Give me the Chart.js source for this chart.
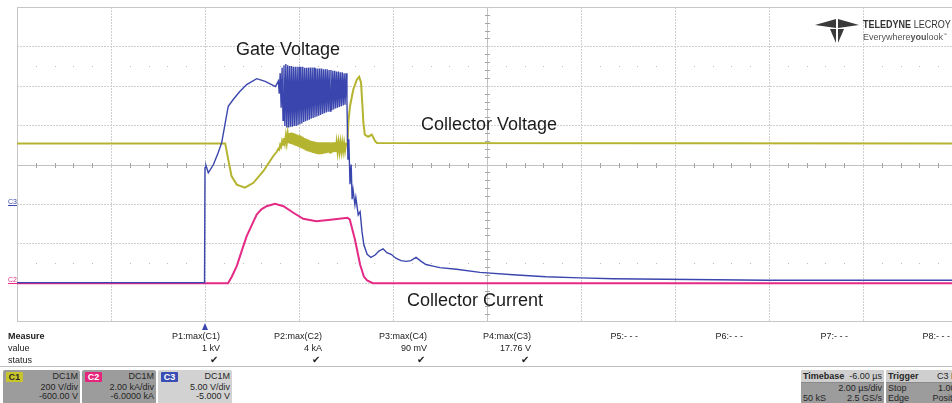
<!DOCTYPE html>
<html lang="en">
<head>
<meta charset="UTF-8">
<title>IGBT switching - scope capture</title>
<script src="https://cdn.jsdelivr.net/npm/chart.js"></script>
<style>
    body { margin: 0; width: 952px; height: 403px; overflow: hidden; position: relative; background: #fff;
           font-family: "Liberation Sans", Arial, sans-serif; color: #222; }
    #scope { position: absolute; left: 0; top: 0; }
    .abs { position: absolute; white-space: nowrap; }
    .note { font-size: 18px; line-height: 18px; color: #1c1c1c; }
    .m { font-size: 9px; line-height: 9px; }
    .box { position: absolute; top: 370px; height: 34px; border-radius: 2px; background: #9c9c9c; overflow: hidden;
           font-size: 9px; line-height: 9px; color: #262626; }
    .box .r { position: absolute; right: 2px; }
    .box .l { position: absolute; left: 2px; }
    .tab { position: absolute; left: 3px; top: 2px; width: 17px; height: 10px; border-radius: 1px;
           font-weight: bold; font-size: 9px; line-height: 10px; text-align: center; }
    .head { position: absolute; left: 0; right: 0; top: 0; height: 12px; background: #cfcfcf; border-bottom: 1px solid #8a8a8a; }
</style>
</head>
<body>
<canvas id="scope" width="960" height="330"></canvas>

<!-- trace annotations -->
<div class="abs note" style="left:236px; top:40px;">Gate Voltage</div>
<div class="abs note" style="left:421px; top:115px;">Collector Voltage</div>
<div class="abs note" style="left:407px; top:291px;">Collector Current</div>

<!-- ground markers -->
<div class="abs" style="left:8px; top:198px; font-size:7px; line-height:8px; color:#3a46ad; text-decoration:underline;">C3</div>
<div class="abs" style="left:8px; top:276px; font-size:7px; line-height:8px; color:#e42a84; text-decoration:underline;">C2</div>

<!-- logo -->
<svg class="abs" style="left:815px; top:17px;" width="46" height="27" viewBox="0 0 46 27">
    <polygon points="0,8 21,2 21,11" fill="#3a3a3a"/>
    <polygon points="44,8 23,2 23,11" fill="#3a3a3a"/>
    <polygon points="15,12 21,12 21,26" fill="#3a3a3a"/>
    <polygon points="23,12 29,12 23,26" fill="#3a3a3a"/>
</svg>
<div class="abs" style="left:863px; top:19px; font-size:11px; line-height:11px; color:#333; transform:scaleX(0.82); transform-origin:left;">
    <b>TELEDYNE</b> LECROY</div>
<div class="abs" style="left:863px; top:30px; font-size:9px; line-height:9px; color:#555;">Everywhere<b>you</b>look<sup style="font-size:4px;">™</sup></div>

<!-- trigger marker + measure panel -->
<div class="abs" style="left:202px; top:323px; width:0; height:0; border-left:3.5px solid transparent; border-right:3.5px solid transparent; border-bottom:7px solid #3a46ad;"></div>
<div id="measure"></div>
<div class="abs" style="left:0; top:366px; width:952px; height:1px; background:#bdbdbd;"></div>

<!-- channel descriptors -->
<div class="box" style="left:3px; width:77px;">
    <div class="tab" style="background:#c8c52c;">C1</div>
    <div class="r" style="top:2px;">DC1M</div>
    <div class="r" style="top:13px;">200 V/div</div>
    <div class="r" style="top:22px;">-600.00 V</div>
</div>
<div class="box" style="left:82px; width:74px;">
    <div class="tab" style="background:#e3257c; color:#fff;">C2</div>
    <div class="r" style="top:2px;">DC1M</div>
    <div class="r" style="top:13px;">2.00 kA/div</div>
    <div class="r" style="top:22px;">-6.0000 kA</div>
</div>
<div class="box" style="left:158px; width:74px; background:#d2d2d2;">
    <div class="tab" style="background:#3a4db5; color:#fff;">C3</div>
    <div class="r" style="top:2px;">DC1M</div>
    <div class="r" style="top:13px;">5.00 V/div</div>
    <div class="r" style="top:22px;">-5.000 V</div>
</div>
<div class="box" style="left:801px; width:83px;">
    <div class="head"></div>
    <div class="l" style="top:2px; font-weight:bold;">Timebase</div>
    <div class="r" style="top:2px;">-6.00 µs</div>
    <div class="r" style="top:14px;">2.00 µs/div</div>
    <div class="l" style="top:24px;">50 kS</div>
    <div class="r" style="top:24px;">2.5 GS/s</div>
</div>
<div class="box" style="left:886px; width:80px;">
    <div class="head"></div>
    <div class="l" style="top:2px; font-weight:bold;">Trigger</div>
    <div class="r" style="top:2px;">C3 DC</div>
    <div class="l" style="top:14px;">Stop</div>
    <div class="r" style="top:14px;">1.00 V</div>
    <div class="l" style="top:24px;">Edge</div>
    <div class="r" style="top:24px;">Positive</div>
</div>

<script>
    // time axis in µs, 2 µs/div, 10 divisions; 8 vertical divisions
    const xMin = -4, xMax = 16, xDivs = 10, yDivs = 8;

    // C3 gate voltage (V), 5 V/div, offset -5 V
    const gatePreT = [-4, -2, -0.01, 0, 0.02, 0.07, 0.18, 0.28, 0.355, 0.425, 0.495, 0.6, 0.745, 0.887, 1.1, 1.28, 1.5];
    const gatePreV = [-10, -10, -10, 4.6, 4.9, 3.95, 5.0, 6.5, 7.75, 10.1, 12.4, 13.25, 14.3, 15.15, 15.9, 15.55, 14.9];

    // ringing burst while the device is on (shared sample times for C1 and C3)
    const burstT = [1.56, 1.58, 1.60, 1.62, 1.64, 1.66, 1.68, 1.70, 1.72, 1.74, 1.76, 1.78, 1.80, 1.82, 1.84,
                    1.86, 1.88, 1.90, 1.92, 1.94, 1.96, 1.98, 2.00, 2.02, 2.04, 2.06, 2.08, 2.10, 2.12, 2.14,
                    2.16, 2.18, 2.20, 2.22, 2.24, 2.26, 2.28, 2.30, 2.32, 2.34, 2.36, 2.38, 2.40, 2.42, 2.44,
                    2.46, 2.48, 2.50, 2.52, 2.54, 2.56, 2.58, 2.60, 2.62, 2.64, 2.66, 2.68, 2.70, 2.72, 2.74,
                    2.76, 2.78, 2.80, 2.82, 2.84, 2.86, 2.88, 2.90, 2.92, 2.94, 2.96, 2.98, 3.00];
    const gateBurstV = [15.6, 14.0, 16.6, 12.2, 17.3, 10.6, 17.6, 9.9, 17.76, 9.7, 17.6, 9.7, 17.5, 9.8, 17.5,
                        9.8, 17.4, 9.9, 17.4, 9.9, 17.4, 10.0, 17.4, 10.1, 17.4, 10.2, 17.4, 10.4, 17.3, 10.5,
                        17.3, 10.6, 17.3, 10.7, 17.3, 10.8, 17.3, 10.9, 17.3, 11.0, 17.2, 11.1, 17.2, 11.2, 17.2,
                        11.3, 17.2, 11.4, 17.1, 11.5, 17.1, 11.6, 17.1, 11.7, 17.0, 11.8, 17.0, 11.9, 16.9, 12.0,
                        16.9, 12.1, 16.8, 12.2, 16.8, 12.3, 16.7, 12.4, 16.7, 12.5, 16.6, 12.6, 16.6];
    const collBurstV = [680, 676, 700, 690, 718, 700, 735, 708, 748, 710, 756, 708, 760, 705, 762,
                        702, 760, 698, 756, 694, 752, 690, 748, 686, 744, 682, 740, 678, 734, 672,
                        730, 668, 726, 665, 722, 662, 719, 659, 716, 656, 714, 654, 712, 652, 712,
                        652, 712, 654, 712, 656, 712, 658, 712, 660, 712, 661, 712, 662, 712, 663,
                        712, 664, 712, 665, 711, 666, 711, 667, 710, 668, 708, 670, 705];

    const gatePostT = [3.02, 3.04, 3.06, 3.085, 3.11, 3.13, 3.15, 3.19, 3.21, 3.26, 3.30, 3.34, 3.38, 3.45, 3.53,
                       3.62, 3.70, 3.79, 3.87, 3.96, 4.06, 4.17, 4.28, 4.38, 4.49, 4.60, 4.70, 4.85, 5.0, 5.35,
                       5.85, 6.55, 7.25, 7.98, 8.68, 10.32, 11.96, 16];
    const gatePostV = [13.2, 5.6, 8.2, 2.5, 5.0, 0.6, 1.8, -0.1, 0.8, -1.4, -1.0, -3.5, -5.2, -6.4, -6.8,
                       -6.5, -6.0, -5.7, -6.2, -6.4, -6.9, -7.2, -7.3, -7.2, -6.8, -7.3, -7.7, -7.9, -8.1, -8.3,
                       -8.7, -9.0, -9.25, -9.4, -9.5, -9.6, -9.7, -9.7];

    // C2 collector current (kA), 2 kA/div, offset -6 kA
    const currT = [-4, 0.49, 0.57, 0.675, 0.78, 0.887, 1.0, 1.1, 1.2, 1.31, 1.49, 1.67, 1.88, 2.09, 2.37,
                   2.72, 3.03, 3.08, 3.19, 3.30, 3.38, 3.45, 3.57, 16];
    const currI = [-0.03, -0.03, 0.3, 0.84, 1.6, 2.36, 2.95, 3.46, 3.72, 3.88, 4.0, 3.88, 3.55, 3.24, 3.12,
                   3.21, 3.29, 3.21, 2.19, 0.92, 0.31, 0.11, -0.03, -0.03];

    // C1 collector voltage (V), 200 V/div, offset -600 V
    const collPreT = [-4, 0.43, 0.495, 0.565, 0.675, 0.85, 1.03, 1.24, 1.45, 1.53];
    const collPreV = [707, 707, 625, 541, 498, 482, 507, 566, 642, 666];
    const collPostT = [3.03, 3.05, 3.085, 3.155, 3.23, 3.28, 3.32, 3.35, 3.37, 3.40, 3.47, 3.55, 3.62, 3.66, 16];
    const collPostV = [702, 812, 896, 981, 1031, 1045, 1015, 896, 812, 752, 741, 752, 718, 709, 707];

    // measurement table
    const measNames = ["P1:max(C1)", "P2:max(C2)", "P3:max(C4)", "P4:max(C3)", "P5:- - -", "P6:- - -", "P7:- - -", "P8:- - -"];
    const measValues = ["1 kV", "4 kA", "90 mV", "17.76 V", "", "", "", ""];
    const measRight = [220, 322, 427, 531, 638, 743, 848, 950];

    const pts = (t, v) => t.map((x, i) => ({ x, y: v[i] }));

    const gateT = gatePreT.concat(burstT, gatePostT);
    const gateV = gatePreV.concat(gateBurstV, gatePostV);
    const collT = collPreT.concat(burstT, collPostT);
    const collV = collPreV.concat(collBurstV, collPostV);

    // measure panel
    const meas = document.getElementById("measure");
    let html = '<div class="abs m" style="left:8px; top:332px; font-weight:bold;">Measure</div>' +
               '<div class="abs m" style="left:8px; top:344px;">value</div>' +
               '<div class="abs m" style="left:8px; top:356px;">status</div>';
    measNames.forEach((n, i) => {
        const r = 952 - measRight[i];
        html += `<div class="abs m" style="right:${r}px; top:332px;">${n}</div>`;
        if (measValues[i]) {
            html += `<div class="abs m" style="right:${r}px; top:344px;">${measValues[i]}</div>`;
            html += `<div class="abs m" style="right:${r + 2}px; top:355px; font-size:10px;">✔</div>`;
        }
    });
    meas.innerHTML = html;

    // oscilloscope graticule
    const scopeGrid = {
        id: "scopeGrid",
        beforeDatasetsDraw(chart) {
            const { ctx, chartArea: a } = chart;
            const xs = chart.scales.x, ys = chart.scales.yI;
            const xAt = d => Math.round(xs.getPixelForValue(xs.min + d * (xs.max - xs.min) / xDivs)) + 0.5;
            const yAt = d => Math.round(ys.getPixelForValue(ys.max - d * (ys.max - ys.min) / yDivs)) + 0.5;
            ctx.save();
            ctx.lineWidth = 1;
            ctx.strokeStyle = "#cfcfcf";
            ctx.setLineDash([2, 1]);
            ctx.beginPath();
            for (let i = 1; i < xDivs; i++) {
                if (i === xDivs / 2) continue;
                ctx.moveTo(xAt(i), a.top); ctx.lineTo(xAt(i), a.bottom);
            }
            for (let j = 1; j < yDivs; j++) {
                if (j === yDivs / 2) continue;
                ctx.moveTo(a.left, yAt(j)); ctx.lineTo(a.right, yAt(j));
            }
            ctx.stroke();
            ctx.setLineDash([]);

            // centre cross with minor ticks
            const cx = xAt(xDivs / 2), cy = yAt(yDivs / 2);
            ctx.strokeStyle = "#c2c2c2";
            ctx.beginPath();
            ctx.moveTo(cx, a.top); ctx.lineTo(cx, a.bottom);
            ctx.moveTo(a.left, cy); ctx.lineTo(a.right, cy);
            ctx.stroke();
            ctx.strokeStyle = "#a5a5a5";
            ctx.beginPath();
            for (let k = 1; k < xDivs * 5; k++) {
                if (k % 5 === 0) continue;
                ctx.moveTo(xAt(k / 5), cy - 2.5); ctx.lineTo(xAt(k / 5), cy + 2.5);
            }
            for (let k = 1; k < yDivs * 5; k++) {
                if (k % 5 === 0) continue;
                ctx.moveTo(cx - 2.5, yAt(k / 5)); ctx.lineTo(cx + 2.5, yAt(k / 5));
            }
            ctx.stroke();

            // dotted rows
            ctx.fillStyle = "#bdbdbd";
            [1.5, yDivs - 1.5].forEach(r => {
                const py = Math.round(yAt(r));
                for (let k = 1; k < xDivs * 5; k++) {
                    if (k % 5 === 0) continue;
                    ctx.fillRect(Math.round(xAt(k / 5)) - 1, py - 1, 1, 1);
                }
            });

            ctx.strokeStyle = "#c6c6c6";
            ctx.strokeRect(a.left + 0.5, a.top + 0.5, a.width - 1, a.height - 1);
            ctx.restore();
        }
    };

    new Chart(document.getElementById("scope"), {
        type: "line",
        data: {
            datasets: [
                { label: "Gate Voltage", data: pts(gateT, gateV), yAxisID: "yG", borderColor: "#3a46ad", borderWidth: 1.4 },
                { label: "Collector Current", data: pts(currT, currI), yAxisID: "yI", borderColor: "#e42a84", borderWidth: 2 },
                { label: "Collector Voltage", data: pts(collT, collV), yAxisID: "yV", borderColor: "#b5b430", borderWidth: 2 }
            ]
        },
        options: {
            responsive: false,
            animation: false,
            events: [],
            layout: { padding: { left: 17, top: 7, right: 3, bottom: 8 } },
            elements: { point: { radius: 0 }, line: { tension: 0 } },
            plugins: { legend: { display: false }, tooltip: { enabled: false } },
            scales: {
                x: { type: "linear", min: xMin, max: xMax, display: false },
                yV: { min: -200, max: 1400, display: false },
                yI: { min: -2, max: 14, display: false },
                yG: { min: -15, max: 25, display: false }
            }
        },
        plugins: [scopeGrid]
    });
</script>
</body>
</html>
